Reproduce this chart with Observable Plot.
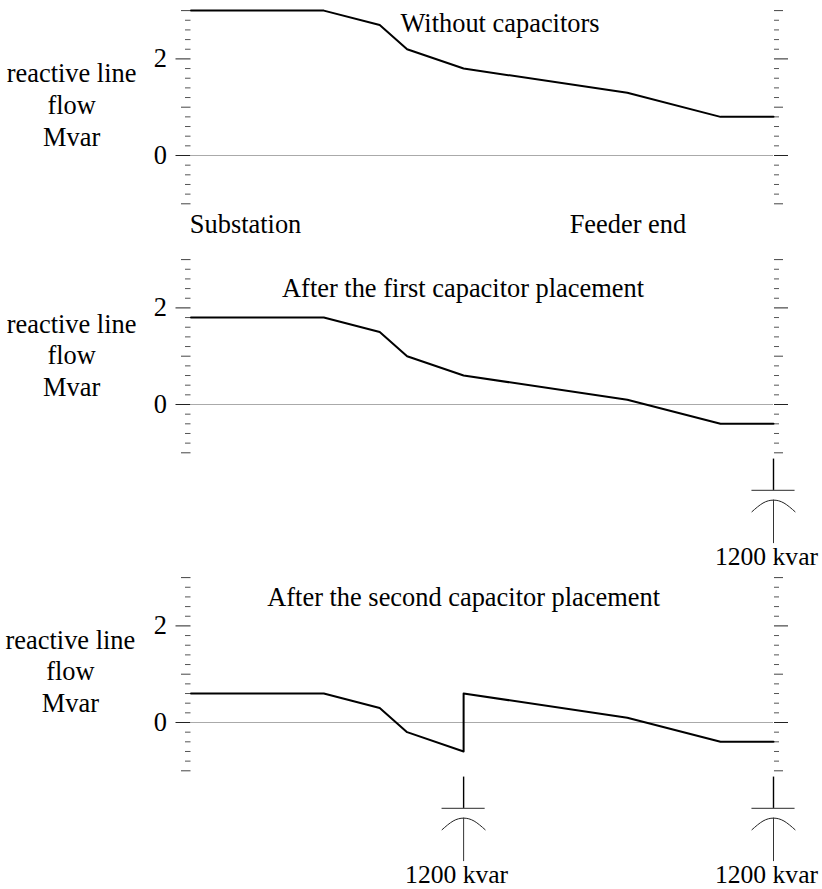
<!DOCTYPE html>
<html>
<head>
<meta charset="utf-8">
<script src="https://cdn.jsdelivr.net/npm/d3@7"></script>
<script src="https://cdn.jsdelivr.net/npm/@observablehq/plot@0.6"></script>
<style>
html,body{margin:0;padding:0;background:#fff}
svg{display:block}
</style>
</head>
<body>
<div id="chart"></div>
<script>
const feederPosition = [0, 22.8, 32.4, 37.1, 46.8, 74.9, 90.9, 100];
const flowWithout = [3, 3, 2.7, 2.2, 1.8, 1.3, 0.8, 0.8];
const flowFirst = [1.8, 1.8, 1.5, 1.0, 0.6, 0.1, -0.4, -0.4];
const positionSecond = [0, 22.8, 32.4, 37.1, 46.8, 46.8, 74.9, 90.9, 100];
const flowSecond = [0.6, 0.6, 0.3, -0.2, -0.6, 0.6, 0.1, -0.4, -0.4];

const labelledTicks = [0, 2];
const midTicks = [-1, 1, 3];
const minorTicks = [-0.8, -0.6, -0.4, -0.2, 0.2, 0.4, 0.6, 0.8, 1.2, 1.4, 1.6, 1.8, 2.2, 2.4, 2.6, 2.8];
const yLabelLines = ["reactive line", "flow", "Mvar"];
const capacitorLabel = "1200 kvar";
const fontFamily = "'Liberation Serif', serif";
const fontSize = 26.4;

function toRows(xs, ys) { return xs.map((x, i) => ({x, y: ys[i]})); }

function capacitor(x) {
  return [
    Plot.ruleX([x], {y1: -1.13, y2: -1.78, stroke: "#000", strokeWidth: 1.4}),
    Plot.ruleY([-1.78], {x1: x - 3.7, x2: x + 3.7, stroke: "#555", strokeWidth: 1.2}),
    Plot.line([{x: x - 3.7, y: -2.22}, {x: x - 1.8, y: -2.04}, {x, y: -1.98}, {x: x + 1.8, y: -2.04}, {x: x + 3.7, y: -2.22}],
      {x: "x", y: "y", curve: "natural", stroke: "#222", strokeWidth: 1}),
    Plot.ruleX([x], {y1: -1.98, y2: -2.88, stroke: "#333", strokeWidth: 1}),
    Plot.text([capacitorLabel], {x: () => x, y: () => -3.16, dx: -7, fill: "#000", fontSize: 25.6, fontFamily})
  ];
}

function panel({rows, height, zero, title, titleX, titleY, labelYs, labelX, capacitors = [], extra = []}) {
  const unit = 48.3;
  const axes = [
    {anchor: "left", ticks: labelledTicks, tickSize: 15, tickPadding: 9, tickFormat: d => d, stroke: "#222", fontSize, fontFamily},
    {anchor: "left", ticks: midTicks, tickSize: 9.5, text: null, stroke: "#444"},
    {anchor: "left", ticks: minorTicks, tickSize: 5.5, text: null, stroke: "#555"},
    {anchor: "right", ticks: labelledTicks, tickSize: 14, text: null, stroke: "#222"},
    {anchor: "right", ticks: midTicks, tickSize: 9, text: null, stroke: "#444"},
    {anchor: "right", ticks: minorTicks, tickSize: 5, text: null, stroke: "#555"}
  ].map(o => Plot.axisY({...o, label: null}));
  return Plot.plot({
    width: 822, height,
    marginLeft: 190.5, marginRight: 49, marginTop: 0, marginBottom: 0,
    style: {background: "transparent", color: "#000", overflow: "visible"},
    x: {domain: [0, 100], axis: null},
    y: {domain: [-1, 3], range: [zero + unit, zero - 3 * unit]},
    marks: [
      ...axes,
      Plot.ruleY([0], {x1: 0, x2: 100, stroke: "#aaa", strokeWidth: 1}),
      Plot.line(rows, {x: "x", y: "y", stroke: "#000", strokeWidth: 2}),
      Plot.text([title], {x: () => titleX, y: () => titleY, fontSize, fontFamily, fill: "#000"}),
      Plot.text(yLabelLines, {x: () => labelX, y: (d, i) => labelYs[i], fontSize, fontFamily, fill: "#000"}),
      ...extra,
      ...capacitors.flatMap(capacitor)
    ]
  });
}

const root = document.getElementById("chart");
root.append(
  panel({
    rows: toRows(feederPosition, flowWithout), height: 240, zero: 155,
    title: "Without capacitors", titleX: 53.05, titleY: 2.74,
    labelYs: [1.70, 1.04, 0.37], labelX: -20.5,
    extra: [
      Plot.text(["Substation"], {x: () => -0.2, y: () => -1.42, textAnchor: "start", fontSize, fontFamily, fill: "#000"}),
      Plot.text(["Feeder end"], {x: () => 75.0, y: () => -1.42, fontSize, fontFamily, fill: "#000"})
    ]
  }),
  panel({
    rows: toRows(feederPosition, flowFirst), height: 330, zero: 164,
    title: "After the first capacitor placement", titleX: 46.7, titleY: 2.4,
    labelYs: [1.66, 1.02, 0.36], labelX: -20.5,
    capacitors: [100]
  }),
  panel({
    rows: toRows(positionSecond, flowSecond), height: 319, zero: 152,
    title: "After the second capacitor placement", titleX: 46.8, titleY: 2.59,
    labelYs: [1.70, 1.06, 0.39], labelX: -20.7,
    capacitors: [46.8, 100]
  })
);
</script>
</body>
</html>
